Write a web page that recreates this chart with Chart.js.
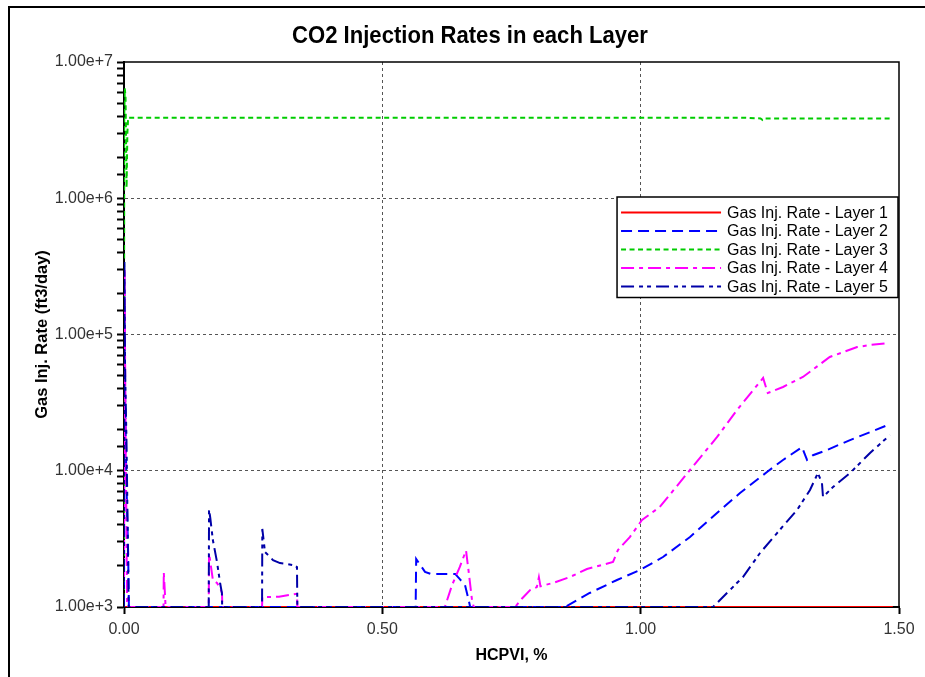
<!DOCTYPE html>
<html>
<head>
<meta charset="utf-8">
<title>CO2 Injection Rates in each Layer</title>
<script src="https://cdn.jsdelivr.net/npm/chart.js@4.4.1/dist/chart.umd.min.js"></script>
<style>
  html, body { margin: 0; padding: 0; background: #fff; }
  #wrap { position: relative; width: 925px; height: 677px; overflow: hidden; background: #fff; }
  #frame { position: absolute; left: 8px; top: 6px; width: 1000px; height: 1000px;
           border: 2px solid #000; box-sizing: border-box; }
  #chart { position: absolute; left: 0; top: 0; }
</style>
</head>
<body>
<div id="wrap">
  <div id="frame"></div>
  <canvas id="chart" width="925" height="677"></canvas>
</div>
<script>
// HCPVI (%) against gas injection rate (ft3/day) for each layer
const layer1Hcpvi = [0, 1.488];
const layer1Rate  = [1000, 1000];

const layer2Hcpvi = [0, 0.0005, 0.002, 0.004, 0.006, 0.008, 0.0095,
  0.5645, 0.5655, 0.5826, 0.594, 0.641, 0.650, 0.660, 0.667, 0.670,
  0.852, 0.8568, 0.9013, 0.9542, 0.9987, 1.0432, 1.0955, 1.1477, 1.1923,
  1.2445, 1.2755, 1.3123, 1.322, 1.3335, 1.3606, 1.4052, 1.4439, 1.4787];
const layer2Rate = [1000, 300000, 40000, 12000, 5000, 2500, 1000,
  1000, 2250, 1810, 1750, 1750, 1600, 1450, 1130, 1000,
  1000, 1017, 1267, 1578, 1869, 2328, 3265, 4897, 6866,
  9790, 12000, 14900, 12000, 13000, 14200, 16800, 19200, 21700];

const layer3Hcpvi = [0, 0.0004, 0.0015, 0.003, 0.005, 0.0065, 0.008,
  0.3, 0.6, 0.9, 1.2, 1.232, 1.236, 1.24, 1.485];
const layer3Rate = [1000, 3900000, 6400000, 5500000, 1200000, 3000000, 3900000,
  3900000, 3900000, 3900000, 3900000, 3850000, 3750000, 3850000, 3850000];

const layer4Hcpvi = [0, 0.001, 0.003, 0.005, 0.006,
  0.0765, 0.077, 0.079, 0.0805,
  0.164, 0.1646, 0.172, 0.180, 0.186, 0.1897, 0.1903,
  0.2672, 0.2677, 0.30, 0.3348, 0.3355,
  0.621, 0.635, 0.650, 0.662, 0.668, 0.6735, 0.677,
  0.757, 0.770, 0.786, 0.799, 0.803, 0.806, 0.830, 0.863, 0.896, 0.9465,
  0.956, 0.979, 1.0026, 1.037, 1.0955, 1.148, 1.1865, 1.237, 1.246,
  1.2755, 1.314, 1.366, 1.419, 1.444, 1.479];
const layer4Rate = [1000, 300000, 20000, 3000, 1000,
  1000, 1800, 1300, 1000,
  1000, 2490, 1580, 1500, 1380, 1267, 1000,
  1000, 1180, 1190, 1250, 1000,
  1000, 1450, 1970, 2600, 1700, 1130, 1000,
  1000, 1150, 1330, 1400, 1650, 1420, 1500, 1660, 1900, 2140,
  2620, 3260, 4350, 5420, 10130, 17700, 27900, 48000, 37200,
  41200, 48800, 68400, 80900, 83700, 86600];

const layer5Hcpvi = [0, 0.0008, 0.002, 0.005, 0.007, 0.009,
  0.164, 0.1646, 0.167, 0.172, 0.180, 0.186, 0.1895, 0.190,
  0.2672, 0.2677, 0.2729, 0.2826, 0.2884, 0.3019, 0.3155, 0.327, 0.3348, 0.3355,
  1.14, 1.167, 1.198, 1.231, 1.264, 1.3026, 1.3277, 1.343, 1.3509, 1.3529,
  1.3723, 1.4052, 1.4439, 1.4826];
const layer5Rate = [1000, 350000, 60000, 15000, 4000, 1000,
  1000, 5200, 4500, 3100, 2140, 1500, 1267, 1000,
  1000, 3740, 2530, 2330, 2210, 2100, 2070, 2030, 1965, 1000,
  1000, 1267, 1660, 2490, 3490, 5150, 7220, 9620, 8130, 6420,
  7600, 9620, 13500, 18300];

const seriesNames = ['Gas Inj. Rate - Layer 1', 'Gas Inj. Rate - Layer 2', 'Gas Inj. Rate - Layer 3',
                     'Gas Inj. Rate - Layer 4', 'Gas Inj. Rate - Layer 5'];
const xTickValues = [0, 0.5, 1.0, 1.5];
const yDecades = [1e3, 1e4, 1e5, 1e6, 1e7];

const FONT = "'Liberation Sans', Arial, sans-serif";

function points(xs, ys) { return xs.map((x, i) => ({ x: x, y: ys[i] })); }

const styles = [
  { color: '#ff0000', dash: [] },
  { color: '#0000ff', dash: [11, 6] },
  { color: '#00cc00', dash: [5, 3.5] },
  { color: '#ff00ff', dash: [13, 5, 4, 5] },
  { color: '#0000a8', dash: [13, 5, 4, 4, 4, 5] }
];
const series = [
  points(layer1Hcpvi, layer1Rate),
  points(layer2Hcpvi, layer2Rate),
  points(layer3Hcpvi, layer3Rate),
  points(layer4Hcpvi, layer4Rate),
  points(layer5Hcpvi, layer5Rate)
];

const datasets = series.map((data, i) => ({
  label: seriesNames[i],
  data: data,
  borderColor: styles[i].color,
  backgroundColor: styles[i].color,
  borderDash: styles[i].dash,
  borderWidth: 2,
  pointRadius: 0,
  tension: 0,
  fill: false,
  // later layers are painted over earlier ones
  order: series.length - i
}));

function isDecade(v) {
  const l = Math.log10(v);
  return Math.abs(l - Math.round(l)) < 1e-9;
}

// bold, slightly condensed heading centred on the framed panel
const heading = {
  id: 'heading',
  afterDraw(chart) {
    const ctx = chart.ctx;
    const condense = 0.92;
    ctx.save();
    ctx.font = 'bold 24px ' + FONT;
    ctx.fillStyle = '#000';
    ctx.textAlign = 'center';
    ctx.textBaseline = 'middle';
    ctx.translate((chart.width + 15) / 2, 36);
    ctx.scale(condense, 1);
    ctx.fillText('CO2 Injection Rates in each Layer', 0, 0);
    ctx.restore();
  }
};

const plotFrame = {
  id: 'plotFrame',
  afterDatasetsDraw(chart) {
    const { ctx, chartArea: a } = chart;
    ctx.save();
    ctx.strokeStyle = '#000';
    ctx.lineWidth = 1.5;
    ctx.beginPath();
    ctx.moveTo(a.left, a.top);
    ctx.lineTo(a.right, a.top);
    ctx.lineTo(a.right, a.bottom);
    ctx.stroke();
    ctx.restore();
  }
};

const lineKey = {
  id: 'lineKey',
  afterDraw(chart) {
    const { ctx, chartArea: a } = chart;
    const sets = chart.data.datasets;
    ctx.save();
    ctx.font = '16px ' + FONT;
    const textW = Math.max(...sets.map(d => ctx.measureText(d.label).width));
    const rowH = 18.5, sample = 100, gap = 6, padL = 4, padR = 10, padT = 6, padB = 6;
    const w = padL + sample + gap + textW + padR;
    const h = padT + rowH * sets.length + padB - 4;
    const x0 = a.right - 1 - w;
    const y0 = a.top + 135;
    ctx.fillStyle = '#fff';
    ctx.fillRect(x0, y0, w, h);
    ctx.strokeStyle = '#000';
    ctx.lineWidth = 1.5;
    ctx.strokeRect(x0, y0, w, h);
    sets.forEach((d, i) => {
      const cy = y0 + padT + 9.5 + i * rowH;
      ctx.beginPath();
      ctx.setLineDash(d.borderDash);
      ctx.strokeStyle = d.borderColor;
      ctx.lineWidth = 2;
      ctx.moveTo(x0 + padL, cy);
      ctx.lineTo(x0 + padL + sample, cy);
      ctx.stroke();
      ctx.setLineDash([]);
      ctx.fillStyle = '#000';
      ctx.textAlign = 'left';
      ctx.textBaseline = 'middle';
      ctx.fillText(d.label, x0 + padL + sample + gap, cy + 1);
    });
    ctx.restore();
  }
};

new Chart(document.getElementById('chart'), {
  type: 'line',
  data: { datasets: datasets },
  options: {
    responsive: false,
    animation: false,
    parsing: true,
    layout: { padding: { top: 62, left: 0, right: 26, bottom: 0 } },
    plugins: {
      legend: { display: false },
      title: { display: false },
      tooltip: { enabled: false }
    },
    scales: {
      x: {
        type: 'linear',
        min: 0,
        max: 1.5,
        afterBuildTicks(scale) { scale.ticks = xTickValues.map(v => ({ value: v })); },
        afterFit(scale) { scale.height = 70; },
        ticks: {
          autoSkip: false,
          maxRotation: 0,
          padding: 6,
          color: '#333',
          font: { family: FONT, size: 16 },
          callback: v => Number(v).toFixed(2)
        },
        grid: {
          color: c => (c.tick && c.tick.value > 0 && c.tick.value < 1.5) ? '#555' : 'rgba(0,0,0,0)',
          lineWidth: 1,
          tickColor: '#000',
          tickWidth: 2,
          tickLength: 7,
          tickBorderDash: []
        },
        border: { display: true, color: '#000', width: 2, dash: [3, 3] },
        title: {
          display: true,
          text: 'HCPVI, %',
          color: '#000',
          font: { family: FONT, size: 16, weight: 'bold' },
          padding: { top: 0, bottom: 12 }
        }
      },
      y: {
        type: 'logarithmic',
        min: yDecades[0],
        max: yDecades[yDecades.length - 1],
        afterFit(scale) { scale.width = 124; },
        ticks: {
          autoSkip: false,
          padding: 4,
          color: '#333',
          font: { family: FONT, size: 16 },
          callback: v => isDecade(v) ? Number(v).toExponential(2) : ''
        },
        grid: {
          color: c => (c.tick && isDecade(c.tick.value) && c.tick.value > yDecades[0] &&
                       c.tick.value < yDecades[yDecades.length - 1]) ? '#555' : 'rgba(0,0,0,0)',
          lineWidth: 1,
          tickColor: '#000',
          tickWidth: 2,
          tickLength: 7,
          tickBorderDash: []
        },
        border: { display: true, color: '#000', width: 2, dash: [3, 3] },
        title: {
          display: true,
          text: 'Gas Inj. Rate (ft3/day)',
          color: '#000',
          font: { family: FONT, size: 16.5, weight: 'bold' },
          padding: { top: 33, bottom: 0 }
        }
      }
    }
  },
  plugins: [heading, plotFrame, lineKey]
});
</script>
</body>
</html>
